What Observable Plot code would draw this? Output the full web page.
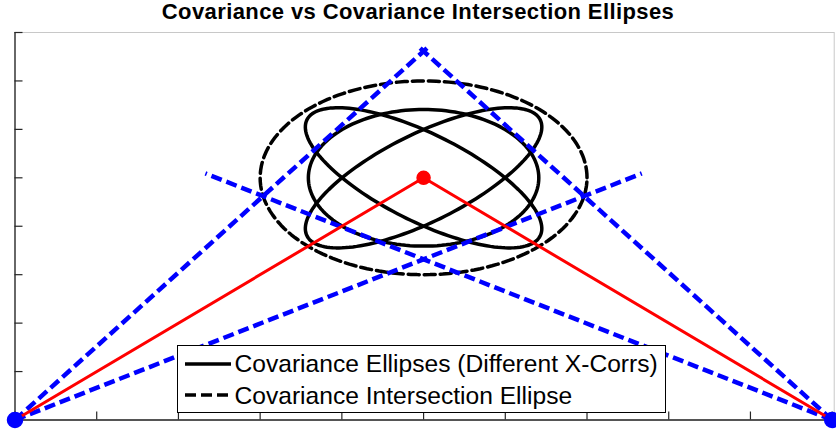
<!DOCTYPE html>
<html>
<head>
<meta charset="utf-8">
<script src="https://cdn.jsdelivr.net/npm/d3@7"></script>
<script src="https://cdn.jsdelivr.net/npm/@observablehq/plot@0.6"></script>
<style>
  html, body { margin: 0; padding: 0; background: #fff; }
  #wrap { position: relative; width: 836px; height: 433px; overflow: hidden; font-family: "Liberation Sans", Arial, sans-serif; }
  #title { position: absolute; left: 0; top: 1px; width: 836px; text-align: center; font-weight: bold; font-size: 22px; line-height: 22px; letter-spacing: 0.4px; color: #000; }
  #legend { position: absolute; left: 177px; top: 345px; width: 487px; height: 66px; border: 1px solid #000; background: #fff; }
  .ltext { position: absolute; font-size: 24.6px; line-height: 24px; color: #000; white-space: nowrap; }
  .lsample { position: absolute; }
</style>
</head>
<body>
<div id="wrap">
  <div id="chart"></div>
  <div id="title">Covariance vs Covariance Intersection Ellipses</div>
  <div id="legend"></div>
</div>
<script>
// ---- data ----
const xTicks = [0, 1, 2, 3, 4, 5, 6, 7, 8, 9, 10];
const yTicks = [0, 1, 2, 3, 4, 5, 6, 7, 8];

const sensorX = [0, 10];
const sensorY = [0, 0];

const targetX = [5];
const targetY = [5];

const sightX = [0, 5, 10];
const sightY = [0, 5, 0];

const bearingFromX = [0, 0, 10, 10];
const bearingFromY = [0, 0, 0, 0];
const bearingToX = [5.07, 7.67, 4.93, 2.33];
const bearingToY = [7.72, 5.09, 7.72, 5.09];

// covariance ellipses (different cross-correlations): semi-axes & rotation (deg), data units
const covSemiMajor = [1.9, 1.9, 1.41];
const covSemiMinor = [0.76, 0.76, 1.41];
const covAngle = [45, -45, 0];

// covariance intersection ellipse
const ciSemiMajor = [2.0];
const ciSemiMinor = [2.0];
const ciAngle = [0];

const legendLabels = ["Covariance Ellipses (Different X-Corrs)", "Covariance Intersection Ellipse"];

// ---- build tables ----
function ellipsePoints(cx, cy, a, b, angDeg, id, n = 160) {
  const th = angDeg * Math.PI / 180, pts = [];
  for (let i = 0; i < n; i++) {
    const t = 2 * Math.PI * i / n;
    const u = a * Math.cos(t), v = b * Math.sin(t);
    pts.push({id, x: cx + u * Math.cos(th) - v * Math.sin(th), y: cy + u * Math.sin(th) + v * Math.cos(th)});
  }
  return pts;
}
const covPts = covSemiMajor.flatMap((a, i) => ellipsePoints(targetX[0], targetY[0], a, covSemiMinor[i], covAngle[i], i));
const ciPts = ciSemiMajor.flatMap((a, i) => ellipsePoints(targetX[0], targetY[0], a, ciSemiMinor[i], ciAngle[i], i));
const bearings = bearingFromX.map((x, i) => ({x1: x, y1: bearingFromY[i], x2: bearingToX[i], y2: bearingToY[i]}));
const sight = sightX.map((x, i) => ({x, y: sightY[i]}));
const sensors = sensorX.map((x, i) => ({x, y: sensorY[i]}));
const targets = targetX.map((x, i) => ({x, y: targetY[i]}));

const W = 836, H = 433, mL = 14.5, mR = 2.3, mT = 32, mB = 13.5;
const frameW = W - mL - mR, frameH = H - mT - mB;
const axisColor = "#262626";

const chart = Plot.plot({
  width: W, height: H,
  marginLeft: mL, marginRight: mR, marginTop: mT, marginBottom: mB,
  x: {domain: [0, 10.025], axis: null},
  y: {domain: [0, 8], axis: null},
  style: {background: "#fff", overflow: "visible"},
  marks: [
    Plot.frame({stroke: "#c8c8c8", strokeWidth: 1}),
    Plot.line(ciPts, {x: "x", y: "y", z: "id", curve: "linear-closed", stroke: "#000", strokeWidth: 3.5, strokeDasharray: "11,5"}),
    Plot.line(covPts, {x: "x", y: "y", z: "id", curve: "linear-closed", stroke: "#000", strokeWidth: 3.5}),
    Plot.link(bearings, {x1: "x1", y1: "y1", x2: "x2", y2: "y2", stroke: "#0000ff", strokeWidth: 4.5, strokeDasharray: "11,5"}),
    Plot.line(sight, {x: "x", y: "y", stroke: "#ff0000", strokeWidth: 3}),
    Plot.ruleX([0], {stroke: axisColor, strokeWidth: 1.3}),
    Plot.ruleY([0], {stroke: axisColor, strokeWidth: 1.3}),
    Plot.tickX(xTicks, {x: d => d, insetTop: frameH - 8, stroke: axisColor, strokeWidth: 1.2}),
    Plot.tickY(yTicks, {y: d => d, insetRight: frameW - 8, stroke: axisColor, strokeWidth: 1.2}),
    Plot.dot(sensors, {x: "x", y: "y", r: 7.5, fill: "#0000ff", stroke: "#0000ff"}),
    Plot.dot(targets, {x: "x", y: "y", r: 6.5, fill: "#ff0000", stroke: "#ff0000"})
  ]
});
document.getElementById("chart").appendChild(chart);

// ---- legend ----
const legend = document.getElementById("legend");
const rows = [{dash: null, lineY: 18, textTop: 6}, {dash: "11,5", lineY: 48.5, textTop: 37.5}];
rows.forEach((r, i) => {
  const s = document.createElementNS("http://www.w3.org/2000/svg", "svg");
  s.setAttribute("class", "lsample");
  s.setAttribute("width", 50); s.setAttribute("height", 8);
  s.style.left = "7px"; s.style.top = (r.lineY - 4) + "px";
  const l = document.createElementNS("http://www.w3.org/2000/svg", "line");
  l.setAttribute("x1", 0); l.setAttribute("x2", 46); l.setAttribute("y1", 4); l.setAttribute("y2", 4);
  l.setAttribute("stroke", "#000"); l.setAttribute("stroke-width", 3.5);
  if (r.dash) l.setAttribute("stroke-dasharray", r.dash);
  s.appendChild(l);
  legend.appendChild(s);
  const t = document.createElement("div");
  t.className = "ltext";
  t.style.left = "56.5px"; t.style.top = r.textTop + "px";
  t.textContent = legendLabels[i];
  legend.appendChild(t);
});
</script>
</body>
</html>
